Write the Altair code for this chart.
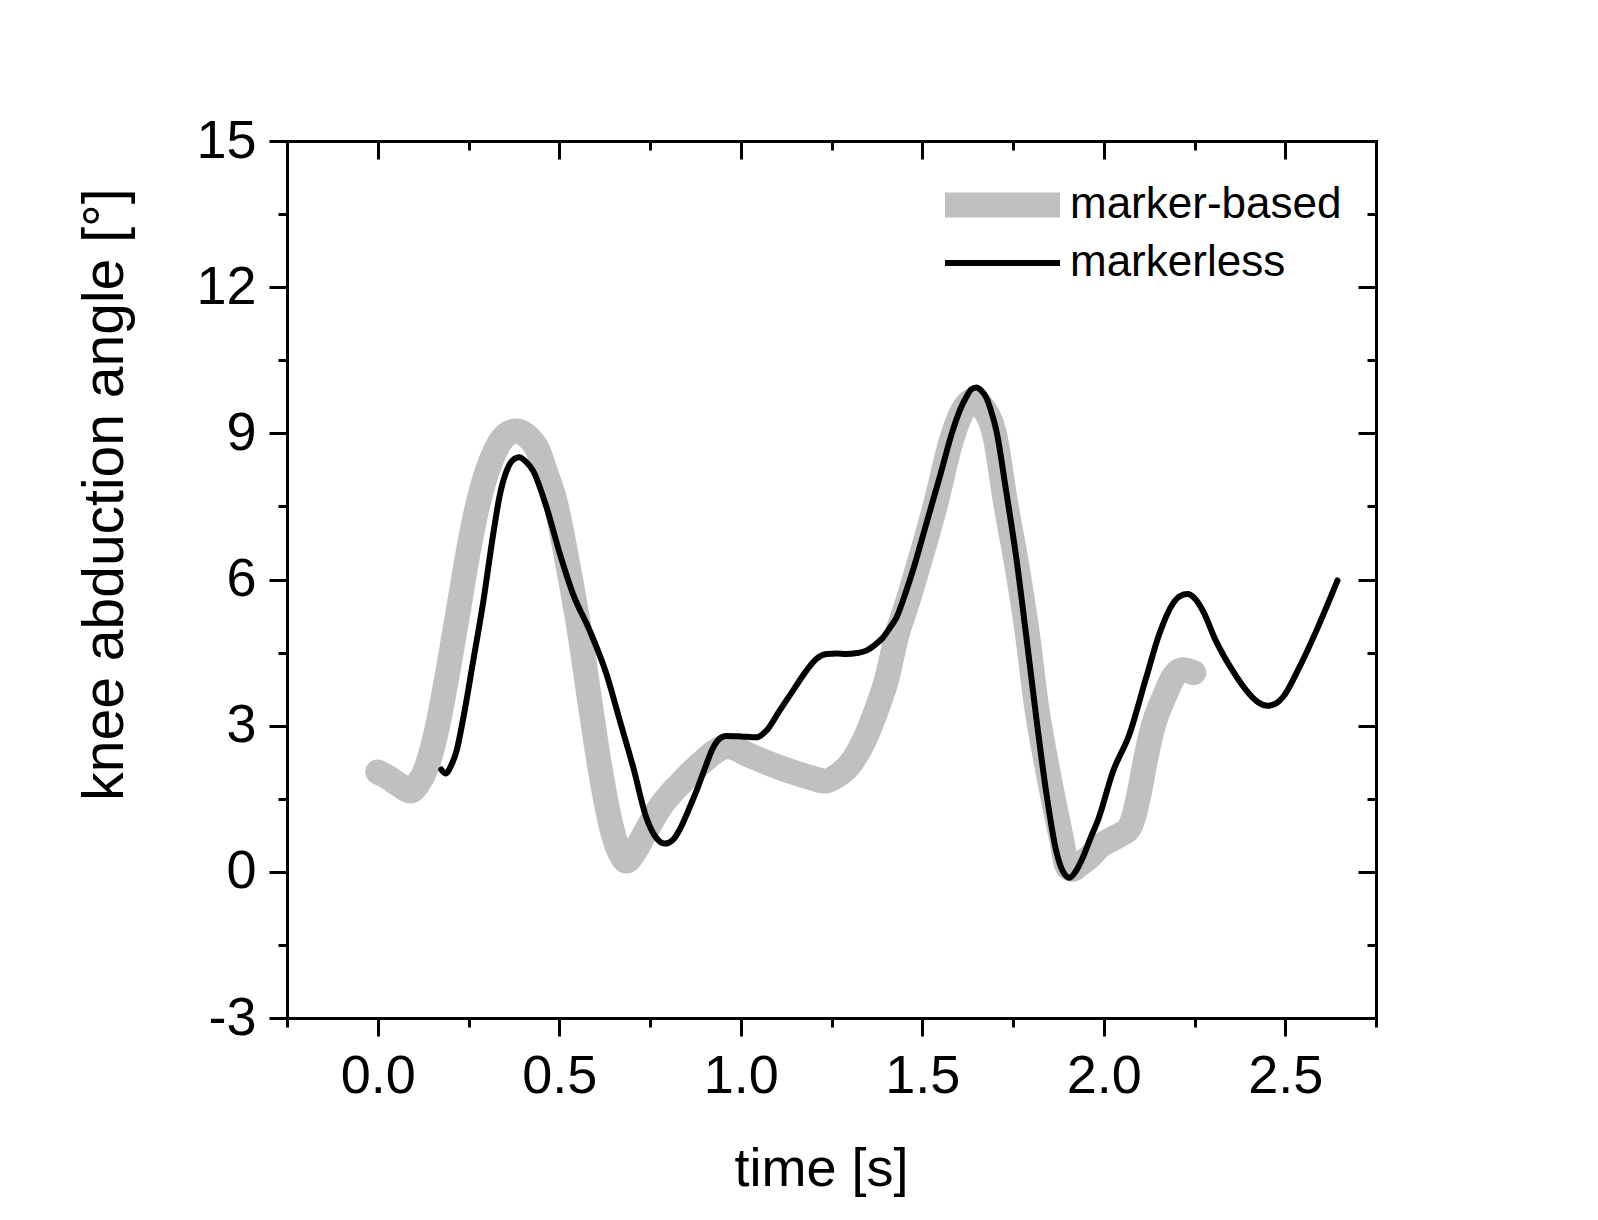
import altair as alt
import pandas as pd

# ---------------- data ----------------
SERIES = ["marker-based", "markerless"]

MB_TIME = [0.000, 0.030, 0.060, 0.090, 0.110, 0.134, 0.160, 0.195, 0.225, 0.250,
           0.270, 0.290, 0.310, 0.335, 0.360, 0.383, 0.410, 0.442, 0.458, 0.488,
           0.525, 0.557, 0.584, 0.612, 0.649, 0.670, 0.685, 0.705, 0.735, 0.777,
           0.832, 0.888, 0.930, 0.961, 0.990, 1.016, 1.060, 1.107, 1.150, 1.199,
           1.230, 1.265, 1.300, 1.340, 1.380, 1.400, 1.430, 1.460, 1.490, 1.537,
           1.580, 1.610, 1.640, 1.670, 1.700, 1.729, 1.763, 1.791, 1.814, 1.846,
           1.883, 1.900, 1.915, 1.933, 1.960, 1.988, 2.025, 2.050, 2.071, 2.085,
           2.100, 2.115, 2.135, 2.170, 2.190, 2.218, 2.248]
MB_ANGLE = [2.05, 1.93, 1.78, 1.66, 1.80, 2.14, 2.83, 4.19, 5.50, 6.60,
            7.35, 7.95, 8.40, 8.80, 9.00, 9.05, 8.95, 8.64, 8.30, 7.62,
            6.25, 4.88, 3.51, 2.14, 0.77, 0.35, 0.22, 0.38, 0.78, 1.32,
            1.80, 2.21, 2.47, 2.57, 2.52, 2.42, 2.28, 2.14, 2.03, 1.92,
            1.86, 1.97, 2.20, 2.70, 3.45, 3.90, 4.85, 5.55, 6.30, 7.55,
            8.85, 9.45, 9.67, 9.50, 8.95, 7.60, 6.18, 4.81, 3.44, 2.07,
            0.70, 0.10, 0.05, 0.15, 0.30, 0.52, 0.68, 0.78, 0.91, 1.20,
            1.70, 2.30, 2.96, 3.65, 3.98, 4.15, 4.09]

ML_TIME = [0.175, 0.188, 0.200, 0.217, 0.236, 0.263, 0.291, 0.318, 0.337, 0.355,
           0.372, 0.390, 0.408, 0.428, 0.465, 0.502, 0.538, 0.584, 0.630, 0.667,
           0.704, 0.740, 0.765, 0.791, 0.812, 0.832, 0.855, 0.878, 0.900, 0.924,
           0.945, 0.961, 1.000, 1.043, 1.071, 1.107, 1.144, 1.181, 1.210, 1.236,
           1.265, 1.291, 1.320, 1.346, 1.370, 1.392, 1.410, 1.429, 1.456, 1.474,
           1.511, 1.548, 1.584, 1.605, 1.621, 1.635, 1.649, 1.662, 1.676, 1.690,
           1.704, 1.731, 1.759, 1.787, 1.814, 1.841, 1.869, 1.888, 1.906, 1.922,
           1.942, 1.965, 1.985, 2.025, 2.071, 2.117, 2.153, 2.190, 2.210, 2.231,
           2.252, 2.273, 2.309, 2.355, 2.401, 2.425, 2.451, 2.473, 2.493, 2.539,
           2.594, 2.644]
ML_ANGLE = [2.10, 2.02, 2.15, 2.48, 3.17, 4.33, 5.56, 6.93, 7.76, 8.23,
            8.45, 8.51, 8.42, 8.23, 7.48, 6.52, 5.70, 4.95, 4.06, 3.10,
            2.14, 1.11, 0.72, 0.58, 0.65, 0.87, 1.25, 1.66, 2.10, 2.55,
            2.75, 2.79, 2.78, 2.76, 2.90, 3.31, 3.72, 4.13, 4.38, 4.47,
            4.48, 4.47, 4.49, 4.54, 4.66, 4.81, 5.00, 5.22, 5.77, 6.18,
            7.14, 8.10, 9.06, 9.50, 9.74, 9.90, 9.94, 9.88, 9.74, 9.45,
            9.06, 7.82, 6.45, 4.81, 3.17, 1.66, 0.43, 0.00, -0.12, 0.00,
            0.29, 0.72, 1.08, 2.05, 2.83, 3.99, 4.88, 5.50, 5.66, 5.70,
            5.60, 5.36, 4.74, 4.13, 3.65, 3.48, 3.41, 3.45, 3.58, 4.20,
            5.09, 5.98]

X_MAJOR = [0.0, 0.5, 1.0, 1.5, 2.0, 2.5]
X_MINOR = [-0.25, 0.25, 0.75, 1.25, 1.75, 2.25, 2.75]
X_LABELS = ["0.0", "0.5", "1.0", "1.5", "2.0", "2.5"]
Y_MAJOR = [-3, 0, 3, 6, 9, 12, 15]
Y_MINOR = [-1.5, 1.5, 4.5, 7.5, 10.5, 13.5]
Y_LABELS = ["-3", "0", "3", "6", "9", "12", "15"]

SERIES_COLORS = ["#c0c0c0", "#000000"]
SERIES_WIDTHS = [25, 6]

# ---------------- table ----------------
df = pd.DataFrame({
    "time": MB_TIME + ML_TIME,
    "angle": MB_ANGLE + ML_ANGLE,
    "series": [SERIES[0]] * len(MB_TIME) + [SERIES[1]] * len(ML_TIME),
})

FONT = "Liberation Sans"
W, H = 1089, 877


def major_test(vals):
    return "indexof([" + ",".join(repr(float(v)) for v in vals) + "], datum.value) >= 0"


def label_expr(vals, labels):
    e = "''"
    for v, l in reversed(list(zip(vals, labels))):
        e = f"datum.value === {float(v)!r} ? '{l}' : ({e})"
    return e


X_TICKS = sorted(X_MAJOR + X_MINOR)
Y_TICKS = sorted(Y_MAJOR + Y_MINOR)

common_axis = dict(
    grid=False, domainColor="black", domainWidth=3, domainCap="square",
    tickColor="black", tickWidth=3,
)

x_bottom = alt.Axis(
    values=X_TICKS, labelExpr=label_expr(X_MAJOR, X_LABELS),
    tickSize=alt.ExprRef(expr=f"({major_test(X_MAJOR)}) ? 18 : 9"),
    labelFont=FONT, labelFontSize=54, labelColor="black", labelPadding=13,
    labelFlush=False, labelOverlap=False,
    title="time [s]", titleFont=FONT, titleFontSize=54, titleFontWeight="normal",
    titleColor="black", titleX=534, titleY=167, titleBaseline="alphabetic",
    **common_axis,
)
y_left = alt.Axis(
    values=Y_TICKS, labelExpr=label_expr(Y_MAJOR, Y_LABELS),
    tickSize=alt.ExprRef(expr=f"({major_test(Y_MAJOR)}) ? 18 : 9"),
    labelFont=FONT, labelFontSize=54, labelColor="black", labelPadding=13,
    labelFlush=False, labelOverlap=False,
    title="knee abduction angle [°]", titleFont=FONT, titleFontSize=57,
    titleFontWeight="normal", titleColor="black", titleAngle=270,
    titleX=-165, titleY=353, titleBaseline="alphabetic", titleAlign="center",
    **common_axis,
)
x_top = alt.Axis(
    orient="top", values=X_TICKS, labels=False, title=None,
    tickSize=alt.ExprRef(expr=f"({major_test(X_MAJOR)}) ? -18 : -9"),
    **common_axis,
)
y_right = alt.Axis(
    orient="right", values=Y_TICKS, labels=False, title=None,
    tickSize=alt.ExprRef(expr=f"({major_test(Y_MAJOR)}) ? -18 : -9"),
    **common_axis,
)

xs = alt.Scale(domain=[-0.25, 2.75], nice=False, zero=False)
ys = alt.Scale(domain=[-3, 15], nice=False, zero=False)
cs = alt.Scale(domain=SERIES, range=SERIES_COLORS)
ws = alt.Scale(domain=SERIES, range=SERIES_WIDTHS)

# horizontal stroke symbol starting at the symbol anchor and running right,
# drawn longer than its nominal size so that the legend rows stay compact
leg = alt.Legend(
    title=None, orient="none", legendX=636, legendY=35, padding=0,
    symbolType="M0,0H23", symbolSize=100, clipHeight=58,
    labelFont=FONT, labelFontSize=44, labelColor="black", labelOffset=103,
    labelExpr="datum.label + '\u00a0\u00a0\u00a0'",
    labelLimit=800, rowPadding=0,
)

base = alt.Chart(df)

grey = base.transform_filter(alt.datum.series == SERIES[0]).mark_line(
    interpolate="monotone", strokeCap="round", strokeJoin="round"
).encode(
    x=alt.X("time:Q", scale=xs, axis=x_bottom),
    y=alt.Y("angle:Q", scale=ys, axis=y_left),
    color=alt.Color("series:N", scale=cs, legend=leg),
    strokeWidth=alt.StrokeWidth("series:N", scale=ws, legend=leg),
)

black = base.transform_filter(alt.datum.series == SERIES[1]).mark_line(
    interpolate="monotone", strokeCap="round", strokeJoin="round"
).encode(
    x=alt.X("time:Q", scale=xs, axis=x_top),
    y=alt.Y("angle:Q", scale=ys, axis=y_right),
    color=alt.Color("series:N", scale=cs, legend=leg),
    strokeWidth=alt.StrokeWidth("series:N", scale=ws, legend=leg),
)

chart = alt.layer(grey, black).resolve_axis(
    x="independent", y="independent"
).properties(
    width=W, height=H,
    padding={"left": 279, "top": 133, "right": 214, "bottom": 194},
    autosize=alt.AutoSizeParams(type="none"),
    background="white",
).configure_view(stroke=None)

chart.save("out.html", embed_options={"renderer": "svg", "actions": False})
